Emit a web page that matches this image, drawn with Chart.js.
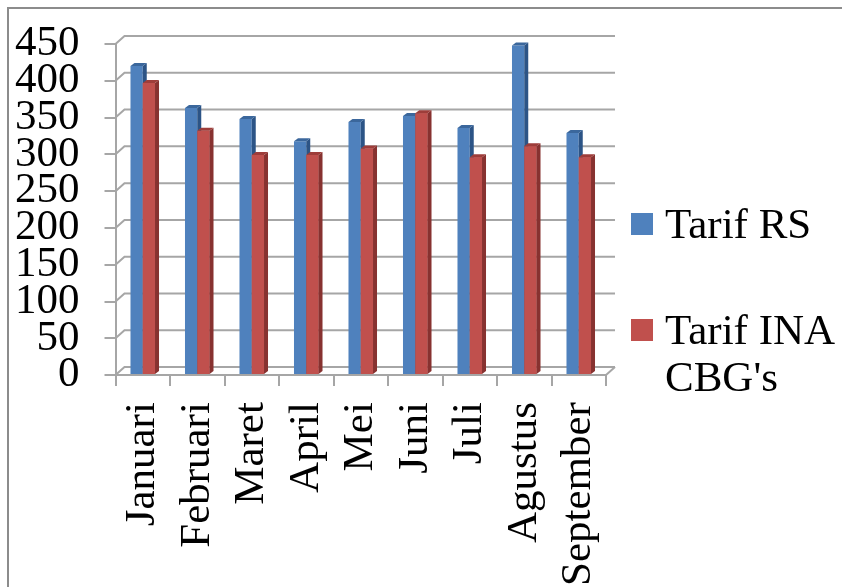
<!DOCTYPE html>
<html>
<head>
<meta charset="utf-8">
<script src="https://cdn.jsdelivr.net/npm/chart.js@4.4.1/dist/chart.umd.min.js"></script>
<style>
  html, body { margin: 0; padding: 0; background: #fff; }
  #wrap { position: relative; width: 842px; height: 587px; overflow: hidden; background: #fff; }
  #frame { position: absolute; left: 7px; top: 7px; width: 900px; height: 700px;
           border-left: 2px solid #8c8c8c; border-top: 2px solid #8c8c8c; }
  #chart { position: absolute; left: 0; top: 0; }
  .legend-item { position: absolute; left: 631px; font-family: 'Liberation Serif', 'Times New Roman', serif;
                 font-size: 43px; line-height: 47px; color: #000; }
  .legend-item .box { position: absolute; left: 0; width: 22px; height: 22px; }
  .legend-item .text { position: absolute; left: 34px; top: 0; white-space: nowrap; }
</style>
</head>
<body>
<div id="wrap">
  <div id="frame"></div>
  <canvas id="chart" width="842" height="587"></canvas>
  <div id="legend"></div>
</div>
<script>
var months = ["Januari", "Februari", "Maret", "April", "Mei", "Juni", "Juli", "Agustus", "September"];
var tarifRS = [420, 363, 348, 318, 344, 352, 336, 448, 329];
var tarifINA = [397, 332, 299, 299, 308, 356, 296, 311, 296];
var seriesNames = [["Tarif RS"], ["Tarif INA", "CBG's"]];

var frontColors = ["#4f81bd", "#c0504d"];
var sideColors = ["#2c5486", "#873230"];
var topColors = ["#3b679c", "#9e3d3a"];

var serif = { family: "'Liberation Serif', 'Times New Roman', serif", size: 43 };

// back wall offset and bar extrusion offset for the fake 3D look
var wall = { dx: 9, dy: -8 };
var ext = { dx: 4, dy: -3 };

var wallPlugin = {
    id: "wall",
    beforeDatasetsDraw: function(chart) {
        var ctx = chart.ctx;
        var a = chart.chartArea;
        var y = chart.scales.y;
        ctx.save();
        ctx.strokeStyle = "#a6a6a6";
        ctx.lineWidth = 2;
        y.ticks.forEach(function(t) {
            var py = y.getPixelForValue(t.value);
            ctx.beginPath();
            ctx.moveTo(a.left, py);
            ctx.lineTo(a.left + wall.dx, py + wall.dy);
            ctx.lineTo(a.right + wall.dx, py + wall.dy);
            ctx.stroke();
        });
        ctx.beginPath();
        ctx.moveTo(a.right, a.bottom);
        ctx.lineTo(a.right + wall.dx, a.bottom + wall.dy);
        ctx.stroke();
        ctx.restore();
    }
};

var extrudePlugin = {
    id: "extrude",
    afterDatasetsDraw: function(chart) {
        var ctx = chart.ctx;
        chart.data.datasets.forEach(function(ds, i) {
            var meta = chart.getDatasetMeta(i);
            // red bars are redrawn so they cover the blue side faces
            if (i > 0) meta.controller.draw();
            ctx.save();
            meta.data.forEach(function(bar) {
                var p = bar.getProps(["x", "y", "base", "width"], true);
                var l = p.x - p.width / 2, r = p.x + p.width / 2;
                ctx.fillStyle = sideColors[i];
                ctx.beginPath();
                ctx.moveTo(r, p.y);
                ctx.lineTo(r + ext.dx, p.y + ext.dy);
                ctx.lineTo(r + ext.dx, p.base + ext.dy);
                ctx.lineTo(r, p.base);
                ctx.closePath();
                ctx.fill();
                ctx.fillStyle = topColors[i];
                ctx.beginPath();
                ctx.moveTo(l, p.y);
                ctx.lineTo(l + ext.dx, p.y + ext.dy);
                ctx.lineTo(r + ext.dx, p.y + ext.dy);
                ctx.lineTo(r, p.y);
                ctx.closePath();
                ctx.fill();
            });
            ctx.restore();
        });
    }
};

var chart = new Chart(document.getElementById("chart"), {
    type: "bar",
    data: {
        labels: months,
        datasets: [{
            label: seriesNames[0].join(" "),
            data: tarifRS,
            backgroundColor: frontColors[0]
        }, {
            label: seriesNames[1].join(" "),
            data: tarifINA,
            backgroundColor: frontColors[1]
        }]
    },
    options: {
        responsive: false,
        animation: false,
        datasets: { bar: { barPercentage: 1, categoryPercentage: 0.45 } },
        layout: { padding: { left: -10, right: 236, top: 44, bottom: -15 } },
        plugins: { legend: { display: false }, tooltip: { enabled: false } },
        scales: {
            x: {
                grid: { drawOnChartArea: false, tickLength: 11, tickColor: "#a6a6a6", lineWidth: 2 },
                border: { color: "#a6a6a6", width: 2 },
                ticks: { font: serif, color: "#000", minRotation: 90, maxRotation: 90, padding: 16, autoSkip: false }
            },
            y: {
                min: 0,
                max: 450,
                afterFit: function(scale) { scale.paddingTop = 0; },
                grid: { drawOnChartArea: false, tickLength: 11, tickColor: "#a6a6a6", lineWidth: 2 },
                border: { color: "#a6a6a6", width: 2 },
                ticks: { stepSize: 50, font: serif, color: "#000", padding: 25, autoSkip: false }
            }
        }
    },
    plugins: [wallPlugin, extrudePlugin]
});

// legend on the right, series names wrap like the original
var legendTops = [200, 306];
var legend = document.getElementById("legend");
chart.data.datasets.forEach(function(ds, i) {
    var item = document.createElement("div");
    item.className = "legend-item";
    item.style.top = legendTops[i] + "px";
    var box = document.createElement("div");
    box.className = "box";
    box.style.background = ds.backgroundColor;
    box.style.top = "13px";
    var text = document.createElement("div");
    text.className = "text";
    text.innerHTML = seriesNames[i].join("<br>");
    item.appendChild(box);
    item.appendChild(text);
    legend.appendChild(item);
});
</script>
</body>
</html>
